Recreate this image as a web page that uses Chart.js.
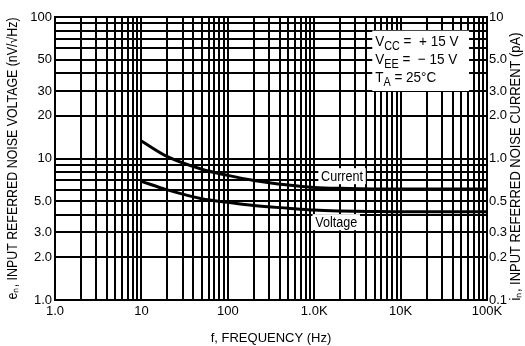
<!DOCTYPE html>
<html>
<head>
<meta charset="utf-8">
<script src="https://cdn.jsdelivr.net/npm/chart.js@4"></script>
<style>
  body { margin: 0; background: #fff; }
  #wrap { width: 525px; height: 346px; }
</style>
</head>
<body>
<div id="wrap"><canvas id="noiseChart" width="525" height="346"></canvas></div>
<script>
// frequency points (Hz)
const freqs = [10, 20, 50, 100, 200, 500, 1000, 2000, 5000, 10000, 20000, 50000, 100000];
// e_n, nV/sqrt(Hz), left axis
const noiseVoltage = [6.9, 6.0, 5.2, 4.9, 4.65, 4.45, 4.32, 4.26, 4.22, 4.2, 4.2, 4.2, 4.2];
// i_n, pA, right axis
const noiseCurrent = [1.33, 1.03, 0.84, 0.76, 0.70, 0.65, 0.625, 0.615, 0.61, 0.61, 0.61, 0.61, 0.61];

const xTickValues = [1, 10, 100, 1000, 10000, 100000];
const xTickLabels = ["1.0", "10", "100", "1.0K", "10K", "100K"];
const yTickValues = [1, 2, 3, 5, 10, 20, 30, 50, 100];
const yTickLabels = ["1.0", "2.0", "3.0", "5.0", "10", "20", "30", "50", "100"];
const y2TickValues = [0.1, 0.2, 0.3, 0.5, 1, 2, 3, 5, 10];
const y2TickLabels = ["0.1", "0.2", "0.3", "0.5", "1.0", "2.0", "3.0", "5.0", "10"];

const FONT = "'Liberation Sans', Arial, sans-serif";

// 1,2,...9 in every decade between lo and hi
function logGrid(lo, hi) {
  const out = [];
  for (let d = lo; d < hi; d *= 10) {
    for (let k = 1; k < 10; k++) out.push(+(k * d).toPrecision(3));
  }
  out.push(hi);
  return out;
}

function labelFor(values, labels) {
  return (v) => {
    const i = values.findIndex(t => Math.abs(t - v) / t < 1e-6);
    return i >= 0 ? labels[i] : "";
  };
}

// rotated title, squeezed to fit the given length
function sideTitle(ctx, text, cx, cy, fit) {
  ctx.save();
  ctx.translate(cx, cy);
  ctx.rotate(-Math.PI / 2);
  ctx.font = "14px " + FONT;
  const w = ctx.measureText(text).width;
  ctx.scale(Math.min(1, fit / w), 1);
  ctx.fillStyle = "#000";
  ctx.textAlign = "center";
  ctx.textBaseline = "middle";
  ctx.fillText(text, 0, 0);
  ctx.restore();
}

const overlay = {
  id: "overlay",
  beforeDatasetsDraw(chart) {
    const ctx = chart.ctx;
    const x = chart.scales.x, y = chart.scales.y;
    ctx.save();
    // conditions box, top right
    const bx0 = x.getPixelForValue(4700), bx1 = x.getPixelForValue(62000);
    const by0 = y.getPixelForValue(80), by1 = y.getPixelForValue(30);
    ctx.fillStyle = "#fff";
    ctx.fillRect(bx0, by0, bx1 - bx0, by1 - by0);

    // curve labels
    ctx.font = "14px " + FONT;
    ctx.textBaseline = "middle";
    ctx.textAlign = "center";
    const tags = [["Current", 2100, 7.5], ["Voltage", 1800, 3.55]];
    tags.forEach(([t, fx, fy]) => {
      const px = x.getPixelForValue(fx), py = y.getPixelForValue(fy);
      ctx.save();
      ctx.translate(px, py);
      ctx.scale(0.9, 1);
      const w = ctx.measureText(t).width + 6;
      ctx.fillStyle = "#fff";
      ctx.fillRect(-w / 2, -8, w, 16);
      ctx.fillStyle = "#000";
      ctx.fillText(t, 0, 1);
      ctx.restore();
    });

    // conditions text with subscripts
    const lines = [["V", "CC", " =  + 15 V"], ["V", "EE", " =  \u2212 15 V"], ["T", "A", " = 25\u00b0C"]];
    ctx.textAlign = "left";
    ctx.textBaseline = "alphabetic";
    ctx.fillStyle = "#000";
    lines.forEach(([a, sub, rest], i) => {
      ctx.save();
      ctx.translate(bx0 + 3, by0 + 15 + i * 18);
      ctx.scale(0.9, 1);
      let px = 0;
      ctx.font = "15px " + FONT;
      ctx.fillText(a, px, 0);
      px += ctx.measureText(a).width;
      ctx.font = "12px " + FONT;
      ctx.fillText(sub, px, 4);
      px += ctx.measureText(sub).width;
      ctx.font = "15px " + FONT;
      ctx.fillText(rest, px, 0);
      ctx.restore();
    });
    ctx.restore();
  },
  afterDraw(chart) {
    const ctx = chart.ctx;
    const a = chart.chartArea;
    sideTitle(ctx, "e\u2099, INPUT REFERRED NOISE VOLTAGE (nV/\u221AHz)", 13, (a.top + a.bottom) / 2, 282);
    sideTitle(ctx, "i\u2099, INPUT REFERRED NOISE CURRENT (pA)", 516, (a.top + a.bottom) / 2 + 8, 268);
    // frame
    ctx.save();
    ctx.strokeStyle = "#000";
    ctx.lineWidth = 2;
    ctx.strokeRect(a.left, a.top, a.right - a.left, a.bottom - a.top);
    ctx.restore();
  }
};

const gridOpts = { color: "#000", lineWidth: 2, drawTicks: false };
const tickFont = { family: FONT, size: 13 };

new Chart(document.getElementById("noiseChart"), {
  type: "line",
  data: {
    datasets: [
      {
        label: "Current",
        data: freqs.map((f, i) => ({ x: f, y: noiseCurrent[i] })),
        yAxisID: "y2",
        borderColor: "#000",
        borderWidth: 3,
        pointRadius: 0,
        cubicInterpolationMode: "monotone"
      },
      {
        label: "Voltage",
        data: freqs.map((f, i) => ({ x: f, y: noiseVoltage[i] })),
        yAxisID: "y",
        borderColor: "#000",
        borderWidth: 3,
        pointRadius: 0,
        cubicInterpolationMode: "monotone"
      }
    ]
  },
  options: {
    responsive: false,
    animation: false,
    layout: { padding: { top: 17 } },
    plugins: { legend: { display: false }, tooltip: { enabled: false } },
    scales: {
      x: {
        type: "logarithmic",
        min: 1, max: 100000,
        grid: gridOpts,
        border: { display: false },
        afterBuildTicks: s => { s.ticks = logGrid(1, 100000).map(v => ({ value: v })); },
        afterFit: s => { s.height = 46; },
        ticks: {
          autoSkip: false, maxRotation: 0, padding: 4, color: "#000",
          font: tickFont,
          callback: labelFor(xTickValues, xTickLabels)
        },
        title: {
          display: true, text: "f, FREQUENCY (Hz)", color: "#000",
          font: { family: FONT, size: 13 }, padding: { top: 8, bottom: 0 }
        }
      },
      y: {
        type: "logarithmic",
        position: "left",
        min: 1, max: 100,
        grid: gridOpts,
        border: { display: false },
        afterBuildTicks: s => { s.ticks = logGrid(1, 100).map(v => ({ value: v })); },
        afterFit: s => { s.width = 55; },
        ticks: {
          autoSkip: false, padding: 3, color: "#000",
          font: tickFont,
          callback: labelFor(yTickValues, yTickLabels)
        }
      },
      y2: {
        type: "logarithmic",
        position: "right",
        min: 0.1, max: 10,
        grid: { display: false, drawTicks: false },
        border: { display: false },
        afterBuildTicks: s => { s.ticks = logGrid(0.1, 10).map(v => ({ value: v })); },
        afterFit: s => { s.width = 38; },
        ticks: {
          autoSkip: false, padding: 2, color: "#000",
          font: tickFont,
          callback: labelFor(y2TickValues, y2TickLabels)
        }
      }
    }
  },
  plugins: [overlay]
});
</script>
</body>
</html>
